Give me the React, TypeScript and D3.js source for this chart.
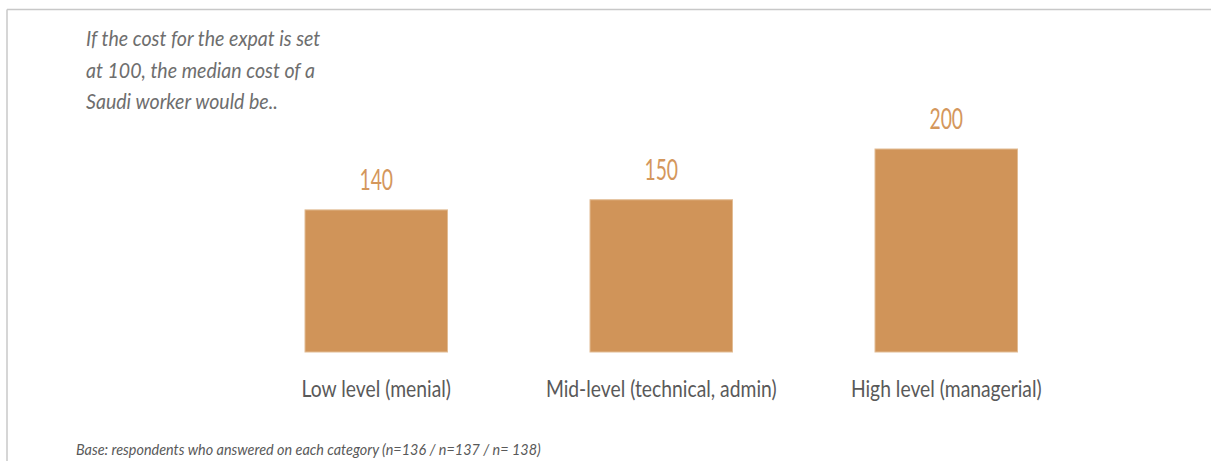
import React from "react";
import * as d3 from "d3";

const categories = ["Low level (menial)", "Mid-level (technical, admin)", "High level (managerial)"];
const values = [140, 150, 200];
const titleLines = ["If the cost for the expat is set", "at 100, the median cost of a", "Saudi worker  would be.."];
const footnote = "Base: respondents  who answered on each category  (n=136 / n=137 / n= 138)";

const W = 1211;
const H = 461;
const FONT = "Lato, 'Open Sans', sans-serif";

export default function App() {
  const x = d3.scaleBand<string>().domain(categories).range([233.75, 1088.75]).paddingInner(0.5).paddingOuter(0.25);
  const y = d3.scaleLinear().domain([0, 200]).range([352, 149]);

  return (
    <div style={{ position: "fixed", left: 0, top: 0 }}>
      <svg width={W} height={H} style={{ display: "block", background: "#fff" }}>
        <line x1={7} y1={9.5} x2={W} y2={9.5} stroke="#c8c8c8" strokeWidth={1.5} />
        <line x1={7} y1={9.5} x2={7} y2={H} stroke="#c8c8c8" strokeWidth={1.5} />

        {titleLines.map((t, i) => (
          <text key={i} transform={`translate(86,${46 + i * 31.5}) scale(0.89,1)`} fontFamily={FONT} fontStyle="italic" fontSize={22} fill="#6e6e6e">
            {t}
          </text>
        ))}

        {categories.map((c, i) => {
          const bx = x(c)!;
          const cx = bx + x.bandwidth() / 2;
          return (
            <g key={c}>
              <rect x={bx} y={y(values[i])} width={x.bandwidth()} height={y(0) - y(values[i])} fill="#D09459" stroke="#E2BC94" strokeWidth={1} />
              <text transform={`translate(${cx},${y(values[i]) - 20}) scale(0.69,1)`} textAnchor="middle" fontFamily={FONT} fontSize={28} fill="#D4975C">
                {values[i]}
              </text>
              <text transform={`translate(${cx},397) scale(0.84,1)`} textAnchor="middle" fontFamily={FONT} fontSize={23} fill="#595959">
                {c}
              </text>
            </g>
          );
        })}

        <text transform={`translate(76,455) scale(0.9,1)`} fontFamily={FONT} fontStyle="italic" fontSize={16} fill="#595959">
          {footnote}
        </text>
      </svg>
    </div>
  );
}
